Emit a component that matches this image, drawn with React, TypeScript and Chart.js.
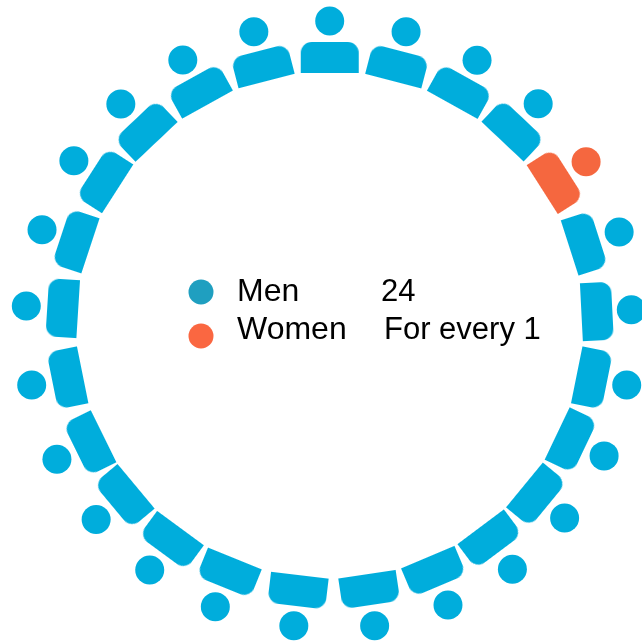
import React, { useEffect, useRef } from "react";
import { Chart, registerables } from "chart.js";

Chart.register(...registerables);

const people = ["M","M","M","M","W","M","M","M","M","M","M","M","M","M","M","M","M","M","M","M","M","M","M","M","M"];
const angles = [0,14.6,29.1,43.3,57.5,72.2,87.1,101.4,115.5,129.4,143.2,157.1,171.5,186.8,202.1,216.3,230.2,243.8,258.6,273.6,288.3,302.7,316.6,331,345.5];
const headRadius = [304,303,303,304,304,304,302,303,304,304,305,304,304,303,304,304,304,304,304,304,303,304,304,303,303];
const bodyRadius = [267.5,267.5,267.5,267.5,267.5,267.5,267.5,267.5,267.5,267.5,267.5,267.5,267.5,267.5,267.5,267.5,267.5,267.5,267.5,267.5,267.5,267.5,267.5,267.5,267.5];
const legendNames = ["Men", "Women"];
const legendValues = ["24", "For every 1"];

const MEN = "#00ADDC";
const WOMEN = "#F5673F";
const LEGEND_COLORS = ["#1F9FC0", "#FA6741"];

function bodyShape(color: string) {
  const c = document.createElement("canvas");
  c.width = 60;
  c.height = 33;
  const g = c.getContext("2d")!;
  g.fillStyle = color;
  g.beginPath();
  g.moveTo(1, 32);
  g.arcTo(1, 1, 59, 1, 11);
  g.arcTo(59, 1, 59, 32, 11);
  g.lineTo(59, 32);
  g.closePath();
  g.fill();
  return c;
}

function polar(angle: number, radius: number) {
  const t = (angle * Math.PI) / 180;
  return { x: radius * Math.sin(t), y: radius * Math.cos(t) };
}

export default function App() {
  const ref = useRef<HTMLCanvasElement>(null);
  useEffect(() => {
    const men = bodyShape(MEN);
    const women = bodyShape(WOMEN);
    const colors = people.map((p) => (p === "W" ? WOMEN : MEN));
    const legendPlugin = {
      id: "centerLegend",
      afterDraw(chart: Chart) {
        const ctx = chart.ctx;
        ctx.save();
        ctx.textBaseline = "alphabetic";
        ctx.textAlign = "left";
        const markerY = [292, 336];
        const baseY = [301, 339];
        const valueX = [381, 384];
        legendNames.forEach((name, i) => {
          ctx.fillStyle = LEGEND_COLORS[i];
          ctx.beginPath();
          ctx.arc(201, markerY[i], 12.5, 0, Math.PI * 2);
          ctx.fill();
          ctx.fillStyle = "#000";
          ctx.font = '32px "Liberation Sans"';
          ctx.fillText(name, 237, baseY[i]);
          ctx.font = '31px "Liberation Sans"';
          ctx.fillText(legendValues[i], valueX[i], baseY[i]);
        });
        ctx.restore();
      },
    };
    const chart = new Chart(ref.current!, {
      type: "scatter",
      data: {
        datasets: [
          {
            label: "Bodies",
            data: angles.map((a, i) => polar(a, bodyRadius[i])),
            showLine: false,
            clip: false,
            pointStyle: people.map((p) => (p === "W" ? women : men)),
            pointRotation: angles,
            pointBackgroundColor: colors,
            pointBorderWidth: 0,
          },
          {
            label: "Heads",
            data: angles.map((a, i) => polar(a, headRadius[i])),
            showLine: false,
            clip: false,
            pointStyle: "circle",
            pointRadius: 14.5,
            pointBackgroundColor: colors,
            pointBorderColor: colors,
            pointBorderWidth: 0,
          },
        ],
      } as any,
      options: {
        responsive: false,
        animation: false,
        layout: { padding: 0, autoPadding: false },
        plugins: { legend: { display: false }, tooltip: { enabled: false } },
        scales: {
          x: { type: "linear", display: false, min: -329.7, max: 312.3 },
          y: { type: "linear", display: false, min: -317, max: 325 },
        },
      } as any,
      plugins: [legendPlugin],
    });
    return () => chart.destroy();
  }, []);
  return (
    <div style={{ position: "fixed", left: 0, top: 0, width: 642, height: 642, background: "#fff" }}>
      <canvas ref={ref} width={642} height={642} style={{ display: "block" }} />
    </div>
  );
}
